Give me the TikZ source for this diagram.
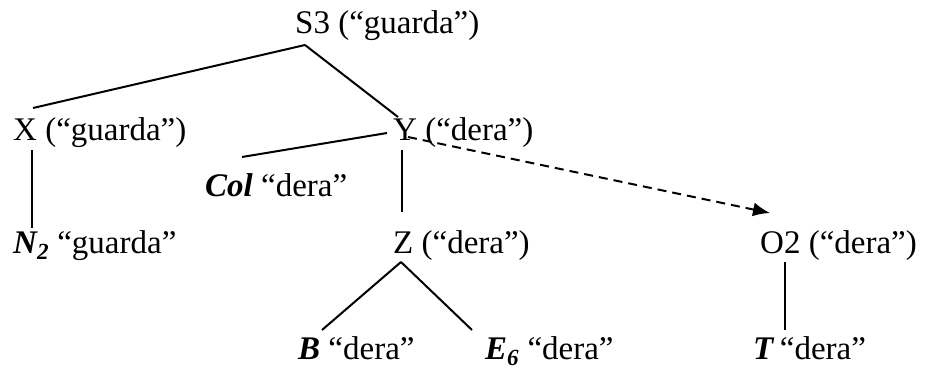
\documentclass[tikz,border=0pt]{standalone}
\usepackage{fontspec}
\setmainfont{Liberation Serif}
\usetikzlibrary{arrows.meta}
\newcommand{\bi}[1]{\textbf{\textit{#1}}}
\begin{document}
\begin{tikzpicture}[x=1pt,y=-1pt,
  lbl/.style={anchor=base west,inner sep=0pt,font=\fontsize{33}{39}\selectfont},
  edge/.style={line width=2pt},
  dashedge/.style={line width=2pt,dash pattern=on 9pt off 6pt,-{Latex[length=17pt,width=14pt]}}]
\useasboundingbox (0,0) rectangle (927,369);
\node[lbl] (s3) at (295,34) {S3 (“guarda”)};
\node[lbl] (x) at (13,140) {X (“guarda”)};
\node[lbl] (y) at (393,140) {Y (“dera”)};
\node[lbl] (col) at (205,196) {\bi{Col} “dera”};
\node[lbl] (n2) at (13,253) {\bi{N\textsubscript{2}} “guarda”};
\node[lbl] (z) at (393,253) {Z (“dera”)};
\node[lbl] (o2) at (760,253) {O2 (“dera”)};
\node[lbl] (b) at (298,359) {\bi{B} “dera”};
\node[lbl] (e6) at (485,359) {\bi{E\textsubscript{6}} “dera”};
\node[lbl] (t) at (753,359) {\bi{T}\,“dera”};
% tree edges
\draw[edge] ([shift={(10,11)}]s3.base west) -- ([shift={(20,-32)}]x.base west);
\draw[edge] ([shift={(10,11)}]s3.base west) -- ([shift={(5,-23)}]y.base west);
\draw[edge] ([shift={(-6,-7)}]y.base west) -- ([shift={(37,-39)}]col.base west);
\draw[edge] ([shift={(9,10)}]y.base west) -- ([shift={(9,-41)}]z.base west);
\draw[edge] ([shift={(19,10)}]x.base west) -- ([shift={(19,-25)}]n2.base west);
\draw[edge] ([shift={(8,9)}]z.base west) -- ([shift={(24,-29)}]b.base west);
\draw[edge] ([shift={(8,9)}]z.base west) -- ([shift={(-13,-29)}]e6.base west);
\draw[edge] ([shift={(25,9)}]o2.base west) -- ([shift={(32,-29)}]t.base west);
\draw[dashedge] ([shift={(15,-3)}]y.base west) -- ([shift={(10,-40)}]o2.base west);
\end{tikzpicture}
\end{document}
